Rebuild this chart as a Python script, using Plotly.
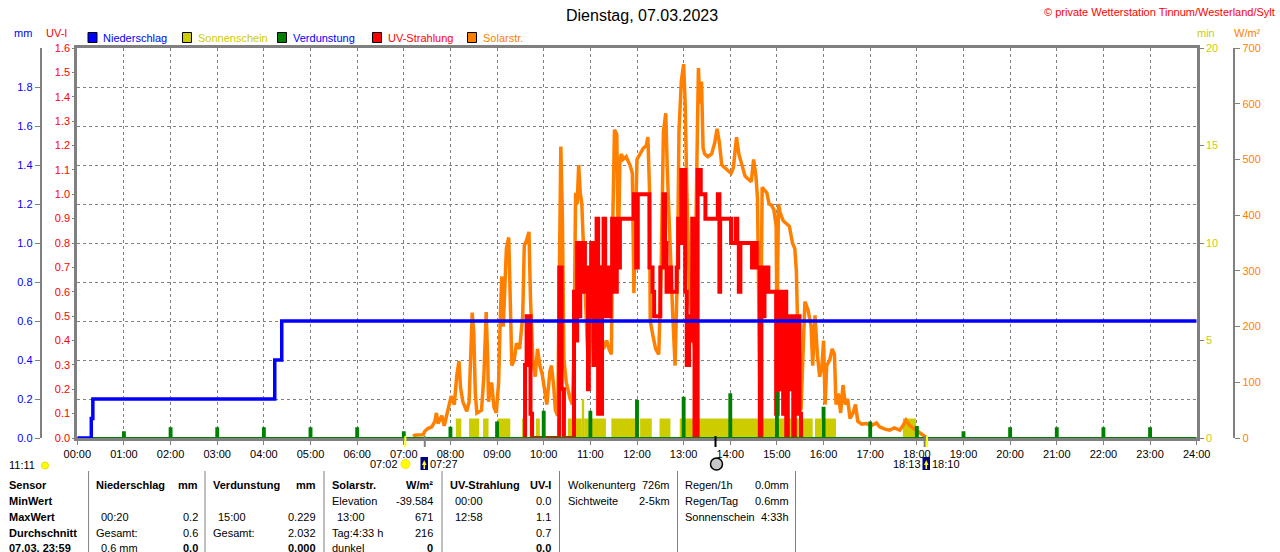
import plotly.graph_objects as go

# Werte (Dienstag 07.03.2023)
hour_labels = ["00:00", "01:00", "02:00", "03:00", "04:00", "05:00", "06:00", "07:00",
               "08:00", "09:00", "10:00", "11:00", "12:00", "13:00", "14:00", "15:00",
               "16:00", "17:00", "18:00", "19:00", "20:00", "21:00", "22:00", "23:00", "24:00"]

# Niederschlag (Summe, mm)
rain_time = ["00:00", "00:18", "00:20", "04:14", "04:23", "24:00"]
rain_mm = [0.0, 0.1, 0.2, 0.4, 0.6, 0.6]

# Verdunstung je Stunde (mm)
evap_hour = [1, 2, 3, 4, 5, 6, 7, 8, 9, 10, 11, 12, 13, 14, 15, 16, 17, 18, 19, 20, 21, 22, 23]
evap_mm = [0.03, 0.05, 0.05, 0.05, 0.05, 0.05, 0.03, 0.053, 0.079, 0.135, 0.135, 0.19,
           0.206, 0.225, 0.229, 0.155, 0.08, 0.056, 0.03, 0.05, 0.05, 0.05, 0.05]

# Sonnenschein (min)
sun_start = ["08:07", "08:24", "08:42", "09:01", "09:32", "09:42", "09:50", "10:17", "10:31", "10:49",
             "10:52", "11:02", "11:27", "12:04", "12:29", "12:55", "15:49", "16:01", "17:42"]
sun_end = ["08:14", "08:37", "08:49", "09:17", "09:37", "09:47", "09:55", "10:22", "10:49", "10:52",
           "10:58", "11:20", "11:59", "12:19", "12:43", "15:46", "15:57", "16:16", "17:59"]
sun_min = [1, 1, 1, 1, 1, 1, 1, 1, 1, 2,
           1, 1, 1, 1, 1, 1, 1, 1, 1]

# Solarstrahlung (W/m2)
solar_time = ["07:12", "07:14", "07:25", "07:27", "07:31", "07:36", "07:40", "07:42", "07:44", "07:49",
              "07:52", "07:55", "07:58", "08:01", "08:05", "08:08", "08:11", "08:13", "08:16", "08:21",
              "08:24", "08:26", "08:28", "08:30", "08:32", "08:34", "08:40", "08:43", "08:46", "08:48",
              "08:49", "08:53", "08:56", "08:59", "09:02", "09:04", "09:06", "09:08", "09:10", "09:12",
              "09:15", "09:17", "09:19", "09:22", "09:25", "09:29", "09:33", "09:35", "09:38", "09:41",
              "09:43", "09:46", "09:49", "09:52", "09:55", "09:58", "10:02", "10:04", "10:08", "10:10",
              "10:13", "10:15", "10:18", "10:20", "10:22", "10:24", "10:26", "10:29", "10:34", "10:37",
              "10:39", "10:41", "10:43", "10:45", "10:47", "10:49", "10:52", "10:54", "10:56", "10:58",
              "11:00", "11:03", "11:06", "11:09", "11:12", "11:15", "11:17", "11:21", "11:24", "11:27",
              "11:29", "11:31", "11:34", "11:36", "11:38", "11:40", "11:42", "11:46", "11:51", "11:54",
              "11:56", "11:58", "12:00", "12:04", "12:08", "12:12", "12:14", "12:16", "12:17", "12:21",
              "12:24", "12:28", "12:31", "12:34", "12:37", "12:39", "12:42", "12:46", "12:49", "12:52",
              "12:54", "12:57", "13:00", "13:02", "13:04", "13:08", "13:12", "13:14", "13:16", "13:19",
              "13:21", "13:23", "13:25", "13:27", "13:31", "13:36", "13:40", "13:43", "13:46", "13:49",
              "13:53", "13:57", "14:01", "14:04", "14:08", "14:11", "14:14", "14:19", "14:23", "14:27",
              "14:30", "14:33", "14:35", "14:37", "14:38", "14:40", "14:41", "14:44", "14:47", "14:50",
              "14:53", "14:56", "14:59", "15:00", "15:02", "15:04", "15:08", "15:12", "15:16", "15:20",
              "15:23", "15:25", "15:27", "15:29", "15:31", "15:34", "15:36", "15:40", "15:44", "15:46",
              "15:49", "15:52", "15:55", "15:58", "16:00", "16:02", "16:04", "16:08", "16:11", "16:14",
              "16:16", "16:19", "16:22", "16:25", "16:28", "16:31", "16:34", "16:38", "16:41", "16:44",
              "16:49", "16:55", "17:01", "17:08", "17:12", "17:19", "17:25", "17:31", "17:38", "17:42",
              "17:46", "17:51", "17:57", "18:04", "18:10", "18:13"]
solar_wm2 = [3, 5, 6, 12, 17, 20, 30, 45, 26, 40,
             22, 40, 55, 75, 60, 110, 138, 90, 65, 48,
             65, 150, 225, 190, 80, 45, 50, 110, 226, 140,
             65, 100, 55, 45, 100, 210, 290, 200, 275, 340,
             360, 230, 130, 140, 170, 160, 220, 345, 355, 370,
             250, 140, 110, 160, 130, 115, 75, 60, 120, 130,
             90, 50, 40, 230, 523, 400, 140, 100, 70, 60,
             160, 440, 420, 490, 440, 420, 300, 230, 170, 130,
             180, 250, 300, 200, 310, 180, 160, 175, 160, 150,
             400, 553, 545, 330, 500, 510, 500, 505, 490, 475,
             260, 420, 500, 510, 520, 525, 540, 450, 210, 180,
             160, 150, 300, 550, 583, 480, 350, 220, 130, 300,
             550, 640, 671, 600, 450, 240, 200, 160, 400, 664,
             600, 640, 520, 510, 505, 510, 530, 555, 530, 490,
             485, 480, 475, 485, 540, 510, 495, 470, 465, 460,
             500, 470, 430, 200, 90, 300, 450, 445, 440, 420,
             418, 410, 380, 180, 420, 405, 390, 385, 380, 350,
             340, 300, 170, 60, 50, 200, 245, 230, 200, 130,
             220, 150, 110, 130, 175, 60, 130, 140, 160, 150,
             60, 80, 45, 95, 60, 70, 35, 45, 60, 30,
             25, 26, 22, 27, 20, 16, 14, 18, 14, 22,
             32, 22, 16, 8, 3, 0]

# UV-Strahlung (UV-I)
uv_time = ["09:34", "09:36", "09:38", "09:40", "09:41", "09:43", "09:45", "10:19", "10:20", "10:23",
           "10:25", "10:26", "10:37", "10:39", "10:41", "10:43", "10:45", "10:47", "10:49", "10:51",
           "10:53", "10:55", "10:57", "10:58", "11:00", "11:01", "11:04", "11:06", "11:08", "11:10",
           "11:11", "11:13", "11:15", "11:17", "11:19", "11:22", "11:24", "11:26", "11:28", "11:31",
           "11:34", "11:36", "11:38", "11:56", "11:59", "12:01", "12:16", "12:20", "12:22", "12:30",
           "12:34", "12:36", "12:38", "12:41", "12:44", "12:51", "12:53", "12:55", "12:57", "13:02",
           "13:04", "13:07", "13:09", "13:11", "13:14", "13:18", "13:22", "13:28", "13:44", "13:46",
           "13:47", "14:01", "14:07", "14:09", "14:11", "14:13", "14:28", "14:31", "14:34", "14:38",
           "14:40", "14:42", "14:44", "14:49", "14:59", "15:01", "15:04", "15:06", "15:08", "15:10",
           "15:12", "15:14", "15:16", "15:19", "15:21", "15:23", "15:25", "15:27", "15:29", "15:31"]
uv_val = [0.0, 0.3, 0.5, 0.3, 0.5, 0.1, 0.0, 0.0, 0.7, 0.2,
          0.2, 0.0, 0.0, 0.6, 0.4, 0.8, 0.5, 0.8, 0.6, 0.8,
          0.6, 0.7, 0.2, 0.6, 0.5, 0.8, 0.3, 0.6, 0.9, 0.1,
          0.7, 0.1, 0.6, 0.9, 0.5, 0.7, 0.5, 0.7, 0.9, 0.6,
          0.9, 0.7, 0.9, 1.0, 0.7, 1.0, 0.7, 0.6, 0.5, 0.7,
          1.0, 0.8, 0.6, 0.7, 0.6, 0.7, 0.9, 0.8, 1.1, 0.6,
          0.3, 0.5, 0.4, 0.9, 0.0, 1.1, 1.0, 0.9, 1.0, 0.6,
          0.9, 0.8, 0.9, 0.8, 0.6, 0.8, 0.7, 0.8, 0.7, 0.0,
          0.7, 0.5, 0.7, 0.6, 0.1, 0.6, 0.2, 0.6, 0.1, 0.6,
          0.0, 0.5, 0.2, 0.5, 0.0, 0.5, 0.1, 0.5, 0.1, 0.0]

# Sonnenauf-/untergang, Mond
events = [("07:02", "#FFFF00"), ("07:27", "#808080"), ("13:41", "#000000"),
          ("18:10", "#808080"), ("18:13", "#FFFF00")]

# Tabelle unten
sensor_col = ["Sensor", "MinWert", "MaxWert", "Durchschnitt", "07.03. 23:59"]
rain_left = ["Niederschlag", "", "00:20", "Gesamt:", "0.6 mm"]
rain_right = ["mm", "", "0.2", "0.6", "0.0"]
evap_left = ["Verdunstung", "", "15:00", "Gesamt:", ""]
evap_right = ["mm", "", "0.229", "2.032", "0.000"]
solar_left = ["Solarstr.", "Elevation", "13:00", "Tag:4:33 h", "dunkel"]
solar_right = ["W/m²", "-39.584", "671", "216", "0"]
uv_left = ["UV-Strahlung", "00:00", "12:58", "", ""]
uv_right = ["UV-I", "0.0", "1.1", "0.7", "0.0"]
cloud_left = ["Wolkenunterg", "Sichtweite"]
cloud_right = ["726m", "2-5km"]
day_left = ["Regen/1h", "Regen/Tag", "Sonnenschein"]
day_right = ["0.0mm", "0.6mm", "4:33h"]

GRAY = "#808080"
BLUE = "#0000FF"
RED = "#FF0000"
GREEN = "#008000"
YELLOW = "#CCCC00"
ORANGE = "#FF8000"
FONT = "Liberation Sans"
W, H = 1280, 552


def hm(s):
    h, m = s.split(":")
    return int(h) + int(m) / 60.0


def X(px):
    return px / W


def Y(py):
    return 1 - py / H


fig = go.Figure()

# Sonnenschein (unterste Ebene)
fig.add_trace(go.Bar(
    x=[(hm(a) + hm(b)) / 2 for a, b in zip(sun_start, sun_end)],
    y=sun_min,
    width=[hm(b) - hm(a) for a, b in zip(sun_start, sun_end)],
    marker=dict(color=YELLOW, line=dict(width=0)),
    yaxis="y", hoverinfo="skip"))

fig.add_trace(go.Scatter(
    x=[hm(t) for t in solar_time], y=solar_wm2, mode="lines",
    line=dict(color=ORANGE, width=3.5), yaxis="y2"))

fig.add_trace(go.Scatter(
    x=[hm(t) for t in uv_time], y=uv_val, mode="lines",
    line=dict(color=RED, width=4, shape="hv"), yaxis="y3"))

ex, ey = [0], [0]
for h, v in zip(evap_hour, evap_mm):
    ex += [h - 0.02, h - 0.02, h + 0.02, h + 0.02]
    ey += [0, v, v, 0]
ex.append(24)
ey.append(0)
fig.add_trace(go.Scatter(
    x=ex, y=ey, mode="lines", line=dict(color=GREEN, width=2),
    fill="tozeroy", fillcolor=GREEN, yaxis="y4"))

fig.add_trace(go.Scatter(
    x=[hm(t) for t in rain_time], y=rain_mm, mode="lines",
    line=dict(color=BLUE, width=3.5, shape="hv"), yaxis="y4"))

XD = [X(77.3), X(1196.7)]
YD = [Y(438), Y(48)]
tf = dict(family=FONT, size=11)

fig.update_layout(
    width=W, height=H,
    margin=dict(l=0, r=0, t=0, b=0, autoexpand=False),
    paper_bgcolor="white", plot_bgcolor="white",
    showlegend=False,
    font=dict(family=FONT, size=11, color="black"),
    xaxis=dict(domain=XD, range=[0, 24], tickvals=list(range(25)), ticktext=hour_labels,
               showgrid=True, gridcolor=GRAY, griddash="3px,3px", gridwidth=1,
               showline=True, linecolor=GRAY, linewidth=3, mirror=True,
               ticks="outside", ticklen=4, tickcolor=GRAY, zeroline=False, automargin=False,
               layer="below traces", tickfont=dict(tf, color="black")),
    yaxis=dict(domain=YD, range=[0, 20], side="right", anchor="x",
               tickvals=[0, 5, 10, 15, 20], ticks="outside", ticklen=4, tickcolor=GRAY,
               showline=True, linecolor=GRAY, linewidth=3, mirror=True, automargin=False,
               showgrid=False, zeroline=False, tickfont=dict(tf, color=YELLOW)),
    yaxis2=dict(overlaying="y", anchor="free", position=X(1234.3), side="right",
                range=[0, 700], dtick=100, ticks="outside", ticklen=5, tickcolor=GRAY,
                showline=True, linecolor=GRAY, linewidth=2, automargin=False,
                showgrid=False, zeroline=False, tickfont=dict(tf, color=ORANGE)),
    yaxis3=dict(overlaying="y", anchor="x", side="left", range=[0, 1.6], dtick=0.1,
                tickformat=".1f", ticks="outside", ticklen=4, tickcolor=GRAY, automargin=False,
                showline=False, showgrid=False, zeroline=False,
                tickfont=dict(tf, color=RED)),
    yaxis4=dict(overlaying="y", anchor="free", position=X(40.7), side="left",
                range=[0, 2.0], tickvals=[0, 0.2, 0.4, 0.6, 0.8, 1.0, 1.2, 1.4, 1.6, 1.8],
                tickformat=".1f", ticks="outside", ticklen=5, tickcolor=GRAY,
                showline=True, linecolor=GRAY, linewidth=2, automargin=False,
                showgrid=True, gridcolor=GRAY, griddash="3px,3px", gridwidth=1,
                zeroline=False, tickfont=dict(tf, color=BLUE)),
)

ann = []
shapes = []


def text(x, y, s, color="black", anchor="left", size=11, bold=False):
    if bold:
        s = "<b>" + s + "</b>"
    ann.append(dict(x=X(x), y=Y(y), xref="paper", yref="paper", text=s, showarrow=False,
                    xanchor=anchor, yanchor="middle", borderpad=0,
                    font=dict(family=FONT, size=size, color=color)))


# Kopf
text(642, 15, "Dienstag, 07.03.2023", anchor="center", size=16)
text(1276, 12, "© private Wetterstation Tinnum/Westerland/Sylt", color=RED, anchor="right")
text(22.5, 33, "mm", color=BLUE, anchor="center")
text(56.5, 33, "UV-I", color=RED, anchor="center")
text(1206, 33, "min", color=YELLOW, anchor="center")
text(1247.5, 33, "W/m²", color=ORANGE, anchor="center")

# Legende
legend = [(88, "Niederschlag", BLUE, BLUE), (182.5, "Sonnenschein", YELLOW, YELLOW),
          (277.5, "Verdunstung", GREEN, BLUE), (372.5, "UV-Strahlung", RED, RED),
          (467.5, "Solarstr.", ORANGE, ORANGE)]
for lx, name, box, col in legend:
    shapes.append(dict(type="rect", xref="paper", yref="paper", x0=X(lx), x1=X(lx + 9),
                       y0=Y(42.5), y1=Y(32.5), fillcolor=box, line=dict(color="black", width=1)))
    text(lx + 14, 38, name, color=col)

# Ereignisse unter der Zeitachse
for t, col in events:
    shapes.append(dict(type="line", xref="x", yref="paper", x0=hm(t), x1=hm(t),
                       y0=Y(436), y1=Y(447), line=dict(color=col, width=2)))

text(8, 465, "11:11")
shapes.append(dict(type="circle", xref="paper", yref="paper", x0=X(41.5), x1=X(48.5),
                   y0=Y(469), y1=Y(462), fillcolor="#FFFF00", line=dict(color="#E0E000", width=1)))
text(399, 464, "07:02", anchor="right")
shapes.append(dict(type="circle", xref="paper", yref="paper", x0=X(401), x1=X(410),
                   y0=Y(468.5), y1=Y(459.5), fillcolor="#FFFF00", line=dict(color="#FFE000", width=1)))
for ix in (420.5, 922.5):
    shapes.append(dict(type="rect", xref="paper", yref="paper", x0=X(ix), x1=X(ix + 7.5),
                       y0=Y(470), y1=Y(457), fillcolor="#000080", line=dict(width=0)))
    shapes.append(dict(type="path", xref="paper", yref="paper",
                       path="M %f,%f L %f,%f L %f,%f Z" % (X(ix + 1.5), Y(465), X(ix + 6), Y(465), X(ix + 3.75), Y(460)),
                       fillcolor="#FFFF00", line=dict(width=0)))
    shapes.append(dict(type="rect", xref="paper", yref="paper", x0=X(ix + 3), x1=X(ix + 4.5),
                       y0=Y(469), y1=Y(465), fillcolor="#FFFF00", line=dict(width=0)))
text(428.5, 464, "07:27")
shapes.append(dict(type="circle", xref="paper", yref="paper", x0=X(710.5), x1=X(722.5),
                   y0=Y(470), y1=Y(458), fillcolor="#C8C8C8", line=dict(color="black", width=1.5)))
text(921.5, 464, "18:13", anchor="right")
text(931, 464, "18:10")

# Tabelle
rows_y = [485, 501, 517, 533, 548]
for i, s in enumerate(sensor_col):
    text(8, rows_y[i], s, bold=True)

columns = [(95, 198.5, rain_left, rain_right, True), (212, 316.5, evap_left, evap_right, True),
           (330.5, 434, solar_left, solar_right, True), (449, 552, uv_left, uv_right, True),
           (566.5, 671, cloud_left, cloud_right, False), (684, 789.5, day_left, day_right, False)]
for lx, rx, left, right, styled in columns:
    for i, s in enumerate(left):
        if not s:
            continue
        dx = 5 if (styled and s[0].isdigit()) else 0
        text(lx + dx, rows_y[i], s, bold=(styled and i == 0))
    for i, s in enumerate(right):
        if not s:
            continue
        text(rx, rows_y[i], s, anchor="right", bold=(styled and i in (0, 4)))

for sx in (88.6, 205, 324, 442, 559.5, 677.5, 795.5):
    shapes.append(dict(type="line", xref="paper", yref="paper", x0=X(sx), x1=X(sx),
                       y0=Y(471), y1=Y(552), line=dict(color=GRAY, width=1)))

fig.update_layout(annotations=ann, shapes=shapes)

# Seitenrand entfernen, damit die Grafik genau im Fenster liegt
fig.write_html("out.html", config={"displayModeBar": False},
               post_script="document.body.style.margin='0';")
